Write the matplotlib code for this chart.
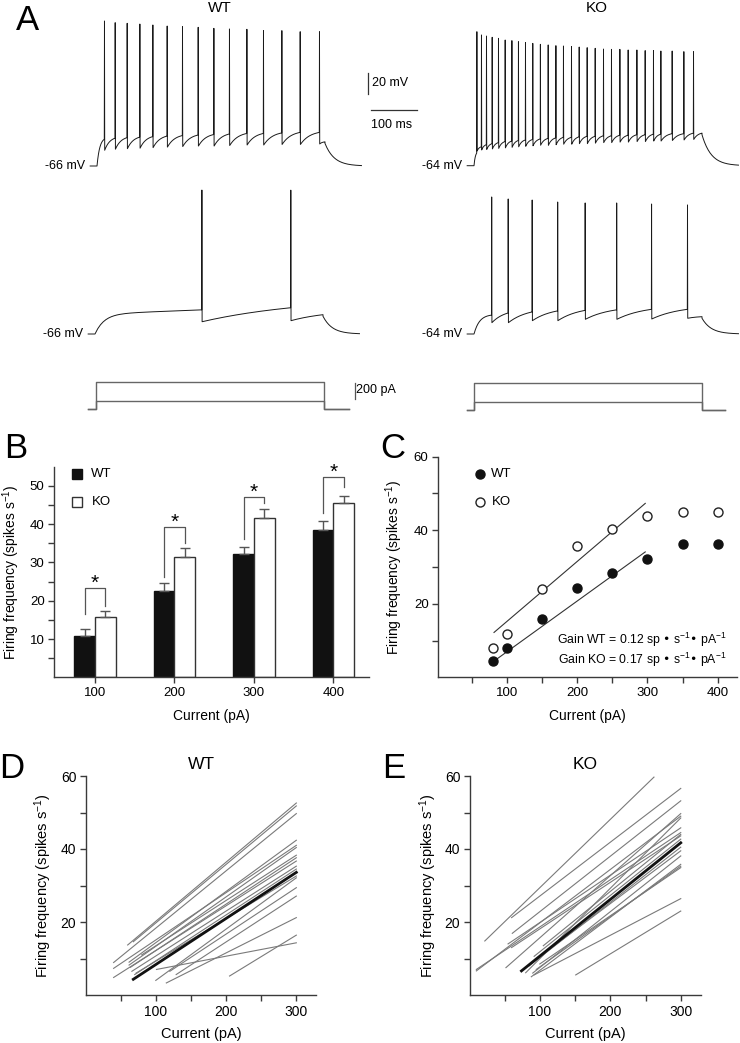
import numpy as np
import matplotlib
matplotlib.use('Agg')
import matplotlib.pyplot as plt

plt.rcParams['font.family'] = ['Liberation Sans', 'DejaVu Sans']
plt.rcParams['mathtext.default'] = 'regular'

W, H = 740, 1043
PX_MS = 0.456   # px per ms
PX_MV = 1.05    # px per mV
PX_PA = 0.083   # px per pA
AX_COL = '#3a3a3a'

# ---------------- panel A : spike trains ----------------
wt_top_spk = [16, 39.5, 65.8, 93.6, 122.1, 153.5, 187.1, 221.5, 255.9, 290.1, 328.3, 364.7, 405, 445.2, 487.5]
wt_top_peak = [72.1, 70.5, 69.9, 69.2, 68.3, 67.3, 66.7, 66.1, 65.1, 64.5, 64.2, 62.9, 62.9, 61.9, 61.9]
wt_top_trough = [-51, -50, -49.5, -49, -48.5, -48, -47.5, -47, -47, -46.5, -46, -46, -45.5, -45.5, -45]
wt_top_thr = [-40.5, -39.5, -39, -38.5, -38, -37.5, -37, -36.5, -36, -35.5, -35, -35, -34.5, -34, -34]

ko_top_spk = [5.9, 16, 27, 39.5, 53.3, 68, 82.7, 97.1, 112.5, 128.5, 145.2, 162.3, 179.2, 195.8,
              213.4, 230.3, 247.8, 265.4, 283.6, 301.1, 319.5, 337.7, 356.8, 375, 393.2, 409.4,
              434.2, 459.8, 481]
ko_top_peak = [63.6, 60.5, 59.5, 58.3, 57.3, 55.7, 55.1, 54.1, 53.2, 52.5, 51.6, 51, 50.3, 50,
               49.4, 49, 48.4, 47.8, 47.1, 46.8, 46.8, 46.2, 46.2, 45.6, 45.6, 45.2, 45.2, 44.6, 44.6]
ko_top_trough = [-50, -49, -48.5, -48, -47.5, -47, -46.5, -46, -45.5, -45, -44.5, -44.5, -44, -43.5,
                 -43.5, -43, -43, -42.5, -42, -42, -41.5, -41.5, -41, -41, -40.5, -40.5, -40, -39.5, -39]
ko_top_thr = [-52, -46, -44, -43, -42, -41, -40.5, -40, -39.5, -39, -38.5, -38, -37.5, -37, -37,
              -36.5, -36, -36, -35.5, -35.5, -35, -35, -34.5, -34.5, -34, -34, -33.5, -33.5, -33]

wt_mid_spk = [234, 429]
wt_mid_peak = [71.1, 71.0]
wt_mid_trough = [-54.3, -53.3]
wt_mid_thr = [-43, -41]

ko_mid_spk = [38.4, 74.6, 127.2, 183.1, 243.4, 312.5, 389, 467.8]
ko_mid_peak = [66.5, 64.6, 63.6, 61.7, 60.8, 60.8, 59.8, 58.9]
ko_mid_trough = [-53.2, -53.2, -51.3, -51.3, -50, -50, -49.7, -49.0]
ko_mid_thr = [-46, -44, -43, -42, -41.5, -41, -40.5, -40.5]

step_amps = [100, 330]   # pA
STEP_DUR = 500


def build_trace(rest, spk, peak, trough, thr, v_end, tau_on, drift_on, isi_frac, t0=-15, t1=580, tau_off=20):
    tt = [t0, 0.0]
    vv = [rest, rest]
    starts = [0.0] + [s + 0.9 for s in spk]
    start_v = [rest] + list(trough)
    ends = list(spk) + [STEP_DUR]
    end_v = list(thr) + [v_end]
    for i in range(len(starts)):
        L = ends[i] - starts[i]
        s = np.linspace(0, L, 40)
        if i == 0:
            tau, dr = tau_on, drift_on
        else:
            tau, dr = max(L * isi_frac, 0.5), 0.0
        f = (1 - np.exp(-s / tau)) / (1 - np.exp(-L / tau))
        seg = start_v[i] + (end_v[i] - dr - start_v[i]) * f + dr * s / L
        tt += list(starts[i] + s)
        vv += list(seg)
        if i < len(spk):
            tt += [spk[i] + 0.4]
            vv += [peak[i]]
    s = np.linspace(0, t1 - STEP_DUR, 60)
    tt += list(STEP_DUR + s)
    vv += list(rest + (v_end - 1.5 - rest) * np.exp(-s / tau_off))
    return np.array(tt), np.array(vv)


fig = plt.figure(figsize=(W / 100, H / 100), dpi=100)


def px_axes(l, t, r, b):
    return fig.add_axes([l / W, 1 - b / H, (r - l) / W, (b - t) / H])


def trace_ax(x0, y0, rest, ta=-30, tb=600, va=None, vb=80):
    if va is None:
        va = rest - 12
    l = x0 + PX_MS * ta
    r = x0 + PX_MS * tb
    t = y0 - PX_MV * (vb - rest)
    b = y0 - PX_MV * (va - rest)
    ax = px_axes(l, t, r, b)
    ax.set_xlim(ta, tb)
    ax.set_ylim(va, vb)
    ax.axis('off')
    return ax


traces = [
    (97, 166, -66, wt_top_spk, wt_top_peak, wt_top_trough, wt_top_thr, -43, 6, 0, 0.5),
    (474, 165.7, -64, ko_top_spk, ko_top_peak, ko_top_trough, ko_top_thr, -33, 3, 0, 0.5),
    (95, 334, -66, wt_mid_spk, wt_mid_peak, wt_mid_trough, wt_mid_thr, -47.6, 20, 4, 1.2),
    (474, 334, -64, ko_mid_spk, ko_mid_peak, ko_mid_trough, ko_mid_thr, -47.5, 12, 0, 0.8),
]
trace_axes = []
for x0, y0, rest, spk, pk, tr, th, vend, tau_on, dr, frac in traces:
    ax = trace_ax(x0, y0, rest)
    t, v = build_trace(rest, spk, pk, tr, th, vend, tau_on, dr, frac)
    ax.plot(t, v, color='#1a1a1a', lw=0.7)
    ax.text(-26, rest, '%d mV' % rest, ha='right', va='center', fontsize=9, clip_on=False)
    trace_axes.append(ax)

# scale bars (in WT top trace coordinates)
ax = trace_axes[0]
ax.plot([594, 594], [2.6, 22.6], color='#333333', lw=0.9, clip_on=False)
ax.plot([601, 701], [-13, -13], color='#333333', lw=0.9, clip_on=False)
ax.text(604, 12.6, '20 mV', ha='left', va='center', fontsize=9, clip_on=False)
ax.text(601, -27, '100 ms', ha='left', va='center', fontsize=9, clip_on=False)

# current steps
for x0, y0, t0, t1 in [(96, 409.3, -17, 555), (474, 410, -16, 550)]:
    l = x0 + PX_MS * (-30)
    r = x0 + PX_MS * 600
    ax = px_axes(l, y0 - PX_PA * 400, r, y0 + PX_PA * 30)
    ax.set_xlim(-30, 600)
    ax.set_ylim(-30, 400)
    ax.axis('off')
    for amp in step_amps:
        ax.plot([t0, 0, 0, STEP_DUR, STEP_DUR, t1], [0, 0, amp, amp, 0, 0], color='#666666', lw=1.0)
    if x0 < 200:
        ax.plot([567.5, 567.5], [120, 320], color='#555555', lw=0.9, clip_on=False)
        ax.text(571, 228, '200 pA', ha='left', va='center', fontsize=9, clip_on=False)

fig.text(220 / W, 1 - 8 / H, 'WT', ha='center', va='center', fontsize=11)
fig.text(597 / W, 1 - 8 / H, 'KO', ha='center', va='center', fontsize=11)

# ---------------- panel B ----------------
currents_b = [100, 200, 300, 400]
wt_mean = [10.8, 22.6, 32.1, 38.5]
wt_err = [1.9, 2.1, 2.0, 2.4]
ko_mean = [15.7, 31.5, 41.6, 45.5]
ko_err = [1.7, 2.3, 2.3, 1.8]
br_top = [23.4, 39.3, 47.2, 52.4]
br_left = [16.5, 26.3, 36.1, 42.8]
br_right = [18.5, 35.0, 45.5, 49.8]

# ---------------- panel C ----------------
currents_c = [80, 100, 150, 200, 250, 300, 350, 400]
wt_rate = [4.3, 7.9, 15.9, 24.3, 28.4, 32.3, 36.3, 36.3]
ko_rate = [7.9, 11.8, 24.1, 35.8, 40.4, 44.0, 44.9, 44.9]
wt_fit = [(79, 4.0), (297, 34.1)]
ko_fit = [(82, 12.2), (297, 47.3)]

# ---------------- panels D / E : individual cells (start x, start y, end x, end y) ----------------
wt_cells = [
    (60, 13.7, 300, 52.6), (68, 14.6, 300, 51.8), (40, 8.9, 300, 49.7),
    (62, 9.0, 300, 42.4), (40, 7.3, 300, 41.0), (62, 8.2, 300, 40.4),
    (64, 7.6, 300, 37.6), (40, 4.8, 300, 36.7), (66, 6.5, 300, 35.3),
    (70, 5.6, 300, 34.5), (72, 6.0, 300, 32.6), (100, 4.0, 300, 32.1),
    (120, 6.5, 300, 29.4), (129, 5.6, 300, 27.1), (115, 3.3, 300, 21.2),
    (101, 7.0, 300, 14.3), (205, 5.2, 300, 16.4), (80, 11.0, 300, 38.3),
]
wt_mean_fit = (68, 4.3, 300, 33.6)

ko_cells = [
    (22, 14.8, 262, 59.7), (60, 21.2, 300, 56.6), (61, 16.9, 300, 53.2),
    (52, 7.5, 300, 49.7), (10, 6.6, 300, 49.0), (80, 6.1, 300, 48.5),
    (10, 7.0, 300, 44.5), (55, 14.0, 300, 45.8), (60, 13.0, 300, 43.6),
    (92, 10.6, 300, 42.7), (110, 12.0, 300, 39.5), (85, 8.0, 300, 40.5),
    (90, 6.0, 300, 38.1), (105, 13.5, 300, 44.0), (88, 5.0, 300, 35.8),
    (95, 7.0, 300, 35.3), (100, 8.5, 300, 34.9), (92, 5.5, 300, 26.4),
    (151, 5.5, 300, 23.0),
]
ko_mean_fit = (74, 6.6, 300, 41.7)

YLAB = 'Firing frequency (spikes s$^{-1}$)'


def style(ax, xt, xl, yt, yl):
    for s in ['top', 'right']:
        ax.spines[s].set_visible(False)
    for s in ['left', 'bottom']:
        ax.spines[s].set_color(AX_COL)
        ax.spines[s].set_linewidth(1.0)
    ax.set_xticks(xt)
    ax.set_xticklabels(xl)
    ax.set_yticks(yt)
    ax.set_yticklabels(yl)
    ax.tick_params(direction='out', length=4, width=1, color=AX_COL, labelsize=9.5, pad=3)


axb = px_axes(54.3, 466.7, 369, 677.3)
axb.set_xlim(48.7, 445)
axb.set_ylim(0, 55)
xb = np.array(currents_b)
axb.bar(xb - 13, wt_mean, width=26, color='#111111', edgecolor='#111111', lw=1)
axb.bar(xb + 13, ko_mean, width=26, color='white', edgecolor='#333333', lw=1)
axb.errorbar(xb - 13, wt_mean, yerr=[np.zeros(4), wt_err], fmt='none', ecolor='#555555', capsize=3.5, elinewidth=1)
axb.errorbar(xb + 13, ko_mean, yerr=[np.zeros(4), ko_err], fmt='none', ecolor='#555555', capsize=3.5, elinewidth=1)
for i, x in enumerate(currents_b):
    axb.plot([x - 13, x - 13, x + 13, x + 13], [br_left[i], br_top[i], br_top[i], br_right[i]], color='#555555', lw=0.9)
    axb.text(x, br_top[i] - 1.3, '*', ha='center', va='bottom', fontsize=15)
yb = list(range(5, 51, 5))
style(axb, currents_b, [str(c) for c in currents_b], yb, [str(v) if v % 10 == 0 else '' for v in yb])
axb.set_xlabel('Current (pA)', fontsize=10, labelpad=7)
axb.set_ylabel(YLAB, fontsize=10)
axb.yaxis.set_label_coords(-0.103, 0.5)
axb.plot([0.071], [0.964], 's', transform=axb.transAxes, ms=7.5, mfc='#111111', mec='#111111', clip_on=False)
axb.plot([0.071], [0.831], 's', transform=axb.transAxes, ms=7.5, mfc='white', mec='#333333', clip_on=False)
axb.text(0.118, 0.964, 'WT', transform=axb.transAxes, va='center', fontsize=9.5)
axb.text(0.118, 0.831, 'KO', transform=axb.transAxes, va='center', fontsize=9.5)

axc = px_axes(438.3, 456.7, 736.7, 677.3)
axc.set_xlim(2.8, 427)
axc.set_ylim(0, 60)
axc.plot(*zip(*wt_fit), color='#333333', lw=0.8)
axc.plot(*zip(*ko_fit), color='#333333', lw=0.8)
axc.plot(currents_c, wt_rate, 'o', ms=6.5, mfc='#111111', mec='#111111', mew=1, clip_on=False)
axc.plot(currents_c, ko_rate, 'o', ms=6.5, mfc='white', mec='#222222', mew=1, clip_on=False)
xc = list(range(50, 401, 50))
yc = list(range(10, 61, 10))
style(axc, xc, [str(v) if v % 100 == 0 else '' for v in xc], yc, [str(v) if v % 20 == 0 else '' for v in yc])
axc.set_xlabel('Current (pA)', fontsize=10, labelpad=7)
axc.set_ylabel(YLAB, fontsize=10)
axc.yaxis.set_label_coords(-0.112, 0.5)
axc.plot([0.14], [0.92], 'o', transform=axc.transAxes, ms=6.5, mfc='#111111', mec='#111111', clip_on=False)
axc.plot([0.14], [0.793], 'o', transform=axc.transAxes, ms=6.5, mfc='white', mec='#222222', clip_on=False)
axc.text(0.178, 0.92, 'WT', transform=axc.transAxes, va='center', fontsize=9.5)
axc.text(0.178, 0.793, 'KO', transform=axc.transAxes, va='center', fontsize=9.5)
axc.text(0.966, 0.169, 'Gain WT = 0.12 sp \u2022 s$^{-1}$\u2022 pA$^{-1}$', transform=axc.transAxes,
         ha='right', va='center', fontsize=8.8)
axc.text(0.966, 0.078, 'Gain KO = 0.17 sp \u2022 s$^{-1}$\u2022 pA$^{-1}$', transform=axc.transAxes,
         ha='right', va='center', fontsize=8.8)


def cells_panel(rect, xlim, cells, mean_fit, title, lab_x):
    ax = px_axes(*rect)
    ax.set_xlim(*xlim)
    ax.set_ylim(0, 60)
    for x0, y0, x1, y1 in cells:
        ax.plot([x0, x1], [y0, y1], color='#7a7a7a', lw=0.8)
    ax.plot([mean_fit[0], mean_fit[2]], [mean_fit[1], mean_fit[3]], color='#111111', lw=2)
    xd = list(range(50, 301, 50))
    yd = list(range(10, 61, 10))
    style(ax, xd, [str(v) if v % 100 == 0 else '' for v in xd], yd, [str(v) if v % 20 == 0 else '' for v in yd])
    ax.tick_params(labelsize=10)
    ax.set_xlabel('Current (pA)', fontsize=10.5, labelpad=6)
    ax.set_ylabel(YLAB, fontsize=10.5)
    ax.yaxis.set_label_coords(lab_x, 0.5)
    ax.text(165, 61, title, ha='center', va='bottom', fontsize=12.5)
    return ax


cells_panel((86, 776, 316, 995), (0.7, 328), wt_cells, wt_mean_fit, 'WT', -0.14)
cells_panel((470, 776, 700.7, 995), (1, 328.3), ko_cells, ko_mean_fit, 'KO', -0.136)

for lab, x, y in [('A', 27, 21), ('B', 16, 448), ('C', 393, 448), ('D', 12, 768), ('E', 394, 769)]:
    fig.text(x / W, 1 - y / H, lab, ha='center', va='center', fontsize=25)

fig.savefig('out.png', dpi=100)
